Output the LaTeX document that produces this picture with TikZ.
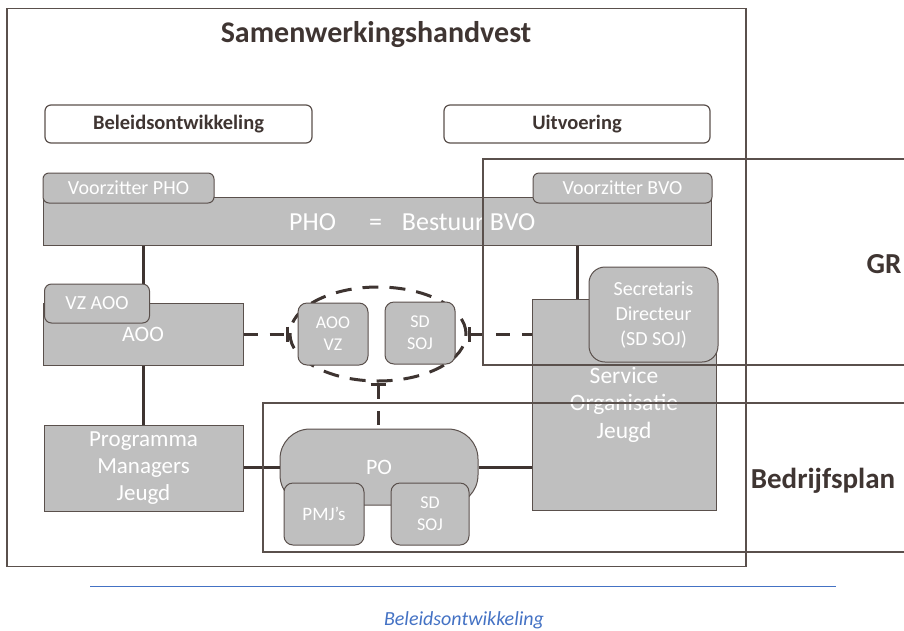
\documentclass[tikz,border=0pt]{standalone}
\usepackage{fontspec}
\setmainfont{Carlito}
\usepackage{tikz}
\usetikzlibrary{arrows.meta}
\usetikzlibrary{shapes.geometric}
\definecolor{framecol}{HTML}{5A504C}
\definecolor{boxfill}{HTML}{BFBFBF}
\definecolor{wirecol}{HTML}{3E3431}
\definecolor{titlecol}{HTML}{3F3532}
\definecolor{captioncol}{HTML}{4472C4}
\tikzstyle{frame} = [rectangle, draw=framecol, line width=1.5pt, inner sep=0pt]
\tikzstyle{header} = [rectangle, rounded corners=6pt, draw=framecol, line width=1.2pt, minimum height=38pt, text centered, text=titlecol, font=\fontsize{20.5}{24}\selectfont\bfseries]
\tikzstyle{block} = [rectangle, draw=framecol, fill=boxfill, line width=1pt, text=white, align=center, inner sep=0pt]
\tikzstyle{tab} = [block, rounded corners=6pt, font=\fontsize{20}{24}\selectfont]
\tikzstyle{small} = [block, rounded corners=9pt, minimum height=62pt, font=\fontsize{18}{22}\selectfont]
\tikzstyle{bold label} = [text=titlecol, font=\fontsize{29}{32}\selectfont\bfseries]
\tikzstyle{wire} = [draw=wirecol, line width=3pt]
\tikzstyle{dashwire} = [wire, dash pattern=on 14pt off 12pt]
\tikzset{bartip/.tip={Bar[width=15pt,line width=3pt]}}

\begin{document}
\begin{tikzpicture}[x=1pt, y=-1pt]
\useasboundingbox (0,0) rectangle (904,630);

% outer frame and headers
\node [frame, minimum width=739pt, minimum height=558pt] (handvest) at (376.5,287.5) {};
\node [text=titlecol, font=\fontsize{30}{34}\selectfont\bfseries] (title) at (376,35) {Samenwerkingshandvest};
\node [header, minimum width=267pt] (beleid) at (178.5,124) {Beleidsontwikkeling};
\node [header, minimum width=266pt] (uitvoering) at (577,124) {Uitvoering};

% main blocks
\node [block, minimum width=668pt, minimum height=48pt] (pho) at (377,221) {};
\node [anchor=west, inner sep=0pt, text=white, font=\fontsize{26}{30}\selectfont] (photext) at (289,222) {PHO\hspace{33pt}=\hspace{20pt}Bestuur BVO};
\node [block, minimum width=200pt, minimum height=62pt, font=\fontsize{22}{26}\selectfont] (aoo) at (143,334) {\raisebox{-3pt}{AOO}};
\node [block, minimum width=199pt, minimum height=86pt, font=\fontsize{23}{27}\selectfont] (pmj) at (143.5,468) {Programma\\Managers\\Jeugd};
\node [block, minimum width=184pt, minimum height=211pt, font=\fontsize{23.5}{27.5}\selectfont] (soj) at (624,404.5) {Service\\Organisatie\\Jeugd};
\node [block, rounded corners=30pt, minimum width=198pt, minimum height=76pt, font=\fontsize{22}{26}\selectfont] (po) at (379,467) {PO};

% overleg
\node [ellipse, draw=wirecol, line width=3pt, dash pattern=on 16pt off 11pt, minimum width=176pt, minimum height=94pt] (overleg) at (378,334) {};
\node [small, minimum width=70pt] (aoovz) at (333,334) {AOO\\VZ};
\node [small, minimum width=70pt] (sdsoj) at (420,333) {SD\\SOJ};

% connectors
\draw [wire] (aoo.north |- pho.south) -- (aoo.north);
\draw [wire] ([xshift=-47pt]soj.north |- pho.south) -- ([xshift=-47pt]soj.north);
\draw [wire] (aoo.south) -- (aoo.south |- pmj.north);
\draw [wire] (pmj.east |- po.west) -- (po.west);
\draw [wire] (po.east) -- (po.east -| soj.west);
\draw [dashwire, -bartip] (aoo.east) -- (overleg.west);
\draw [dashwire, bartip-] (overleg.east) -- (overleg.east -| soj.west);
\draw [dashwire, bartip-] (overleg.south) -- (overleg.south |- po.north);

% tabs on top of the blocks
\node [tab, minimum width=171pt, minimum height=30pt] (vzpho) at (128.5,188) {Voorzitter PHO};
\node [tab, minimum width=179pt, minimum height=30pt] (vzbvo) at (622.5,188) {Voorzitter BVO};
\node [tab, rounded corners=7pt, minimum width=105pt, minimum height=39pt] (vzaoo) at (97,303.5) {VZ AOO};
\node [block, rounded corners=16pt, minimum width=129pt, minimum height=95pt, font=\fontsize{20}{25}\selectfont] (secdir) at (653.5,314.5) {Secretaris\\Directeur\\(SD SOJ)};
\node [small, minimum width=80pt, font=\fontsize{19}{22}\selectfont] (pmjs) at (324,514) {PMJ’s};
\node [small, minimum width=78pt] (posd) at (430,514) {SD\\SOJ};

% GR and Bedrijfsplan frames
\node [frame, minimum width=477pt, minimum height=206pt] (gr) at (721.5,262) {};
\node [bold label] (grtext) at (884,264) {GR};
\node [frame, minimum width=697pt, minimum height=149pt] (bp) at (611.5,477.5) {};
\node [bold label] (bptext) at (823,481) {Bedrijfsplan};

% caption
\draw [draw=captioncol, line width=1pt] (90,586) -- (836,586);
\node [text=captioncol, font=\fontsize{20}{24}\selectfont\itshape] (caption) at (464,620) {Beleidsontwikkeling};

\end{tikzpicture}
\end{document}
